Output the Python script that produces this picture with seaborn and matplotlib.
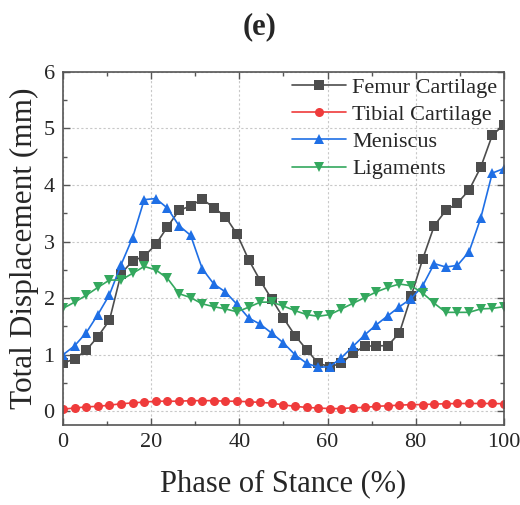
import numpy as np
import pandas as pd
import matplotlib
matplotlib.use("Agg")
import matplotlib.pyplot as plt
import seaborn as sns
from matplotlib.ticker import MultipleLocator

phase = [i * 100 / 38 for i in range(39)]

femur = [0.85, 0.93, 1.08, 1.32, 1.61, 2.43, 2.66, 2.74, 2.95, 3.26, 3.55, 3.63, 3.75,
         3.60, 3.44, 3.13, 2.68, 2.31, 1.98, 1.65, 1.34, 1.09, 0.85, 0.79, 0.85, 1.03,
         1.15, 1.16, 1.16, 1.39, 2.03, 2.69, 3.28, 3.55, 3.68, 3.91, 4.31, 4.88, 5.06]
tibial = [0.04, 0.06, 0.08, 0.09, 0.11, 0.135, 0.15, 0.165, 0.18, 0.18, 0.18, 0.19, 0.19,
          0.19, 0.18, 0.18, 0.17, 0.16, 0.145, 0.115, 0.09, 0.07, 0.06, 0.05, 0.05, 0.065,
          0.07, 0.09, 0.10, 0.11, 0.12, 0.12, 0.13, 0.135, 0.14, 0.14, 0.14, 0.14, 0.135]
meniscus = [1.00, 1.16, 1.39, 1.71, 2.06, 2.59, 3.07, 3.74, 3.76, 3.59, 3.28, 3.11, 2.52,
            2.25, 2.11, 1.89, 1.65, 1.54, 1.38, 1.21, 1.00, 0.85, 0.78, 0.79, 0.95, 1.15,
            1.35, 1.53, 1.69, 1.85, 1.99, 2.22, 2.61, 2.55, 2.58, 2.82, 3.41, 4.21, 4.29]
ligaments = [1.82, 1.93, 2.05, 2.19, 2.32, 2.32, 2.44, 2.56, 2.50, 2.35, 2.08, 2.01, 1.90,
             1.85, 1.81, 1.76, 1.84, 1.93, 1.93, 1.86, 1.78, 1.71, 1.68, 1.71, 1.81, 1.91,
             2.01, 2.11, 2.19, 2.25, 2.22, 2.09, 1.91, 1.75, 1.75, 1.75, 1.81, 1.82, 1.85]

series_names = ["Femur Cartilage", "Tibial Cartilage", "Meniscus", "Ligaments"]
colors = ["#4d4d4d", "#ef3b3b", "#1f6fe5", "#34a85e"]
markers = ["s", "o", "^", "v"]

df = pd.DataFrame({"phase": phase * 4,
                   "value": femur + tibial + meniscus + ligaments,
                   "series": sum([[n] * len(phase) for n in series_names], [])})

sns.set_style("ticks")
plt.rcParams["font.family"] = ["Liberation Serif", "DejaVu Serif"]
plt.rcParams["mathtext.fontset"] = "stix"

fig = plt.figure(figsize=(5.2, 5.05), dpi=100)
ax = fig.add_axes([0.1212, 0.1584, 0.8478, 0.6996])

sns.lineplot(data=df, x="phase", y="value", hue="series", style="series",
             hue_order=series_names, style_order=series_names,
             palette=colors, markers=markers, dashes=False, markersize=6.5,
             markeredgewidth=0, linewidth=1.2, ax=ax)

ax.set_xlim(0, 100)
ax.set_ylim(-0.24, 6)
ax.xaxis.set_major_locator(MultipleLocator(20))
ax.xaxis.set_minor_locator(MultipleLocator(10))
ax.yaxis.set_major_locator(MultipleLocator(1))
ax.yaxis.set_minor_locator(MultipleLocator(0.5))
ax.grid(True, which="major", linestyle=(0, (2, 2)), color="#c8c8c8", linewidth=0.8)
ax.tick_params(which="both", direction="in", top=True, right=True, color="#555555")
ax.tick_params(which="major", length=5, width=1, labelsize=16, pad=6)
ax.tick_params(which="minor", length=3, width=1)
for s in ax.spines.values():
    s.set_color("#555555")
    s.set_linewidth(1.2)

ax.set_xlabel("Phase of Stance (%)", fontsize=22, labelpad=12)
ax.set_ylabel("Total Displacement (mm)", fontsize=22.5, labelpad=3)
fig.text(0.5, 0.947, "(e)", ha="center", va="center", fontsize=22, fontweight="bold")

leg = ax.legend(loc="upper left", bbox_to_anchor=(0.5, 1.01), frameon=False,
                fontsize=16, handlelength=2.4, handletextpad=0.3, labelspacing=0.3,
                borderaxespad=0.0)

fig.savefig("out.png", dpi=100)
